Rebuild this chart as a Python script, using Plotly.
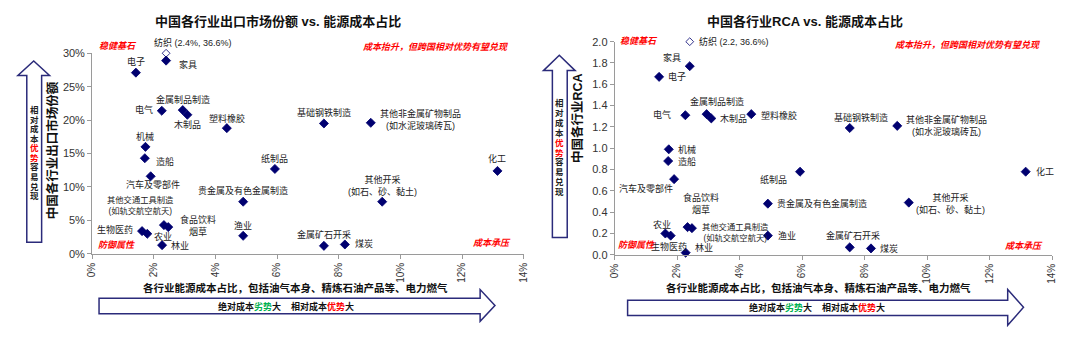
import plotly.graph_objects as go

W, H = 1080, 337

# ---------------- data ----------------
names = ["纺织", "家具", "电子", "电气", "金属制品制造", "木制品", "塑料橡胶", "机械", "造船",
         "汽车及零部件", "生物医药", "其他交通工具制造", "农业", "食品饮料烟草", "林业", "纸制品",
         "贵金属及有色金属制造", "渔业", "基础钢铁制造", "其他非金属矿物制品", "化工", "其他开采",
         "金属矿石开采", "煤炭"]
energy_share = [2.4, 2.4, 1.42, 2.26, 2.94, 3.09, 4.37, 1.73, 1.71, 1.9, 1.62, 1.79, 2.33, 2.47,
                2.27, 5.93, 4.9, 4.9, 7.52, 9.04, 13.15, 9.41, 7.52, 8.2]
export_share = [36.6, 28.9, 27.1, 21.4, 21.5, 20.8, 18.8, 16.0, 14.3, 11.6, 3.4, 3.0, 4.3, 4.0,
                1.3, 12.7, 7.8, 2.7, 19.5, 19.6, 12.4, 7.8, 1.2, 1.4]
rca = [2.2, 1.77, 1.67, 1.31, 1.32, 1.28, 1.32, 0.99, 0.88, 0.71, 0.20, 0.18, 0.26, 0.25, 0.02,
       0.78, 0.48, 0.18, 1.19, 1.21, 0.78, 0.49, 0.07, 0.06]

x_ticks = [0, 2, 4, 6, 8, 10, 12, 14]
y1_ticks = [0, 5, 10, 15, 20, 25, 30]
y2_ticks = [0.0, 0.2, 0.4, 0.6, 0.8, 1.0, 1.2, 1.4, 1.6, 1.8, 2.0]

display_labels = {
    "其他交通工具制造": "其他交通工具制造<br>(如轨交航空航天)",
    "其他非金属矿物制品": "其他非金属矿物制品<br>(如水泥玻璃砖瓦)",
    "其他开采": "其他开采<br>(如石、砂、黏土)",
    "食品饮料烟草": "食品饮料<br>烟草",
}
vertical_note = ["相", "对", "成", "本", "优", "势", "容", "易", "兑", "现"]
vertical_red = {"优", "势"}

# ---------------- style ----------------
FONT = "Liberation Sans, Arial, Noto Sans CJK SC, sans-serif"
NAVY = "#000070"
ARROW = "#2B2B7A"
AXIS = "#9A9A9A"
RED = "#FF0000"
GREEN = "#00B050"

# label offsets in pixels (dx, dy[screen down], xanchor)
off_left = {
    "纺织": (27, -11, "center"), "家具": (11, 4, "left"), "电子": (0, -11, "center"),
    "电气": (-7, -1, "right"), "金属制品制造": (0, -11, "center"), "木制品": (0, 10, "center"),
    "塑料橡胶": (0, -10, "center"), "机械": (0, -10, "center"), "造船": (9, 3, "left"),
    "汽车及零部件": (2, 8, "center"), "生物医药": (-7, -2, "right"),
    "其他交通工具制造": (-7, -28, "center"), "农业": (-1, 11, "center"),
    "食品饮料烟草": (30, -2, "center"), "林业": (7, 0, "left"), "纸制品": (0, -10, "center"),
    "贵金属及有色金属制造": (0, -11, "center"), "渔业": (0, -10, "center"),
    "基础钢铁制造": (0, -11, "center"), "其他非金属矿物制品": (7, -3, "left"),
    "化工": (0, -12, "center"), "其他开采": (0, -16, "center"), "金属矿石开采": (0, -11, "center"),
    "煤炭": (8, -1, "left"),
}
off_right = {
    "纺织": (7, 0, "left"), "家具": (-18, -9, "center"), "电子": (7, 0, "left"),
    "电气": (-12, -1, "right"), "金属制品制造": (10, -13, "center"), "木制品": (7, 0, "left"),
    "塑料橡胶": (8, 1, "left"), "机械": (7, 0, "left"), "造船": (8, 0, "left"),
    "汽车及零部件": (-28, 9, "center"), "生物医药": (4, 13, "center"),
    "其他交通工具制造": (29, -3, "left"), "农业": (-26, -3, "center"),
    "食品饮料烟草": (9, -25, "center"), "林业": (7, -5, "left"), "纸制品": (-27, 8, "center"),
    "贵金属及有色金属制造": (7, 0, "left"), "渔业": (8, 0, "left"),
    "基础钢铁制造": (11, -11, "center"), "其他非金属矿物制品": (7, 0, "left"),
    "化工": (8, 0, "left"), "其他开采": (42, 1, "center"), "金属矿石开采": (3, -12, "center"),
    "煤炭": (7, 0, "left"),
}
label_size = {"其他交通工具制造": 8.3}


def px(x):
    return x / W


def py(y):
    return 1 - y / H


fig = go.Figure()


def add_panel(yvals, ymax, xa, ya, offsets, first_label):
    yd = [min(v, ymax) for v in yvals]
    symbols = ["diamond-open" if v > ymax else "diamond" for v in yvals]
    sizes = [6 if v > ymax else 7 for v in yvals]
    fig.add_trace(go.Scatter(
        x=energy_share, y=yd, mode="markers", xaxis=xa, yaxis=ya, cliponaxis=False,
        marker=dict(symbol=symbols, size=sizes, color=NAVY, opacity=1,
                    line=dict(color=NAVY, width=0.8)),
        showlegend=False, hoverinfo="skip"))
    xref = "x" if xa == "x" else "x2"
    yref = "y" if ya == "y" else "y2"
    for i, n in enumerate(names):
        dx, dy, anc = offsets[n]
        txt = display_labels.get(n) or n
        if n == "纺织":
            txt = first_label
        fig.add_annotation(x=energy_share[i], y=yd[i], xref=xref, yref=yref, text=txt,
                           showarrow=False, xshift=dx, yshift=-dy, xanchor=anc,
                           yanchor="middle", align="center",
                           font=dict(size=label_size.get(n, 9), color="#222222", family=FONT))


add_panel(export_share, 30, "x", "y", off_left,
          f"纺织 ({energy_share[0]}%, {export_share[0]}%)")
add_panel(rca, 2.0, "x2", "y2", off_right,
          f"纺织 ({rca[0]}, {export_share[0]}%)")

axis_common = dict(showgrid=False, zeroline=False, showline=True, linecolor=AXIS, linewidth=1,
                   ticks="outside", ticklen=4, tickcolor=AXIS, mirror=False,
                   tickfont=dict(size=11, color="#333333", family=FONT))
xtickfont = dict(size=10, color="#333333", family=FONT)

fig.update_layout(
    width=W, height=H, margin=dict(l=0, r=0, t=0, b=0),
    paper_bgcolor="white", plot_bgcolor="white", font=dict(family=FONT),
    xaxis=dict(domain=[px(87), px(523)], range=[0, 14], tickvals=x_ticks,
               ticktext=[f"{v}%" for v in x_ticks], tickangle=-90, anchor="y",
               **{**axis_common, "tickfont": xtickfont}),
    yaxis=dict(domain=[py(257), py(49)], range=[0, 30], tickvals=y1_ticks,
               ticktext=[f"{v}%" for v in y1_ticks], anchor="x", **axis_common),
    xaxis2=dict(domain=[px(615), px(1057)], range=[0, 14], tickvals=x_ticks,
                ticktext=[f"{v}%" for v in x_ticks], tickangle=-90, anchor="y2",
                **{**axis_common, "tickfont": xtickfont}),
    yaxis2=dict(domain=[py(258), py(37)], range=[0, 2.0], tickvals=y2_ticks,
                ticktext=[f"{v:.1f}" for v in y2_ticks], anchor="x2", **axis_common),
)


def ann(x, y, text, size, color="#111111", angle=0, xanchor="center", yanchor="middle"):
    fig.add_annotation(x=px(x), y=py(y), xref="paper", yref="paper", text=text, showarrow=False,
                       textangle=angle, xanchor=xanchor, yanchor=yanchor,
                       font=dict(size=size, color=color, family=FONT))


# titles
ann(275, 16, "<b>中国各行业出口市场份额 vs. 能源成本占比</b>", 13)
ann(807, 16, "<b>中国各行业RCA vs. 能源成本占比</b>", 13)
# axis titles
ann(47, 150, "<b>中国各行业出口市场份额</b>", 12.5, angle=-90)
ann(578, 116, "<b>中国各行业RCA</b>", 12.5, angle=-90)
xt = "<b>各行业能源成本占比，包括油气本身、精炼石油产品等、电力燃气</b>"
ann(292, 292, xt, 10.5)
ann(821, 292, xt, 10.5)

# corner notes
for (x, y, t, a) in [(113, 41, "稳健基石", "center"), (510, 42, "成本抬升，但跨国相对优势有望兑现", "right"),
                     (112, 248, "防御属性", "center"), (512, 246, "成本承压", "right"),
                     (640, 36, "稳健基石", "center"), (1048, 40, "成本抬升，但跨国相对优势有望兑现", "right"),
                     (637, 248, "防御属性", "center"), (1050, 249, "成本承压", "right")]:
    ann(x, y, f"<b><i>{t}</i></b>", 9, color=RED, xanchor=a)


# arrows
def path(points):
    return "M " + " L ".join(f"{px(a):.5f},{py(b):.5f}" for a, b in points) + " Z"


def up_arrow(sx0, sx1, hx0, hx1, hb, ha, sb):
    ax = (hx0 + hx1) / 2
    return path([(sx0, sb), (sx0, hb), (hx0, hb), (ax, ha), (hx1, hb), (sx1, hb), (sx1, sb)])


def right_arrow(xs, hx, st, sbm, ht, hbm, ax):
    my = (ht + hbm) / 2
    return path([(xs, st), (hx, st), (hx, ht), (ax, my), (hx, hbm), (hx, sbm), (xs, sbm)])


for p in [up_arrow(21, 36, 12, 44, 72, 57, 245), up_arrow(552, 567, 543, 575, 67, 51, 240),
          right_arrow(94, 479, 303, 319, 294, 327, 494),
          right_arrow(628, 1012, 305, 321, 294, 331, 1028)]:
    fig.add_shape(type="path", path=p, xref="paper", yref="paper",
                  line=dict(color=ARROW, width=1.5), fillcolor="white", layer="below")

# stacked vertical notes inside the up arrows (one upright character per line)
for (cx, top, step) in [(28.5, 108, 9.9), (559.5, 101, 10.2)]:
    for k, ch in enumerate(vertical_note):
        col = RED if ch in vertical_red else "#222222"
        ann(cx, top + k * step, f"<b>{ch}</b>", 8.5, color=col)

ht = (f"<b>绝对成本<span style='color:{GREEN}'>劣势</span>大    "
      f"相对成本<span style='color:{RED}'>优势</span>大</b>")
ann(283, 312, ht, 9)
ann(819, 313, ht, 9)

fig.write_html("out.html")
